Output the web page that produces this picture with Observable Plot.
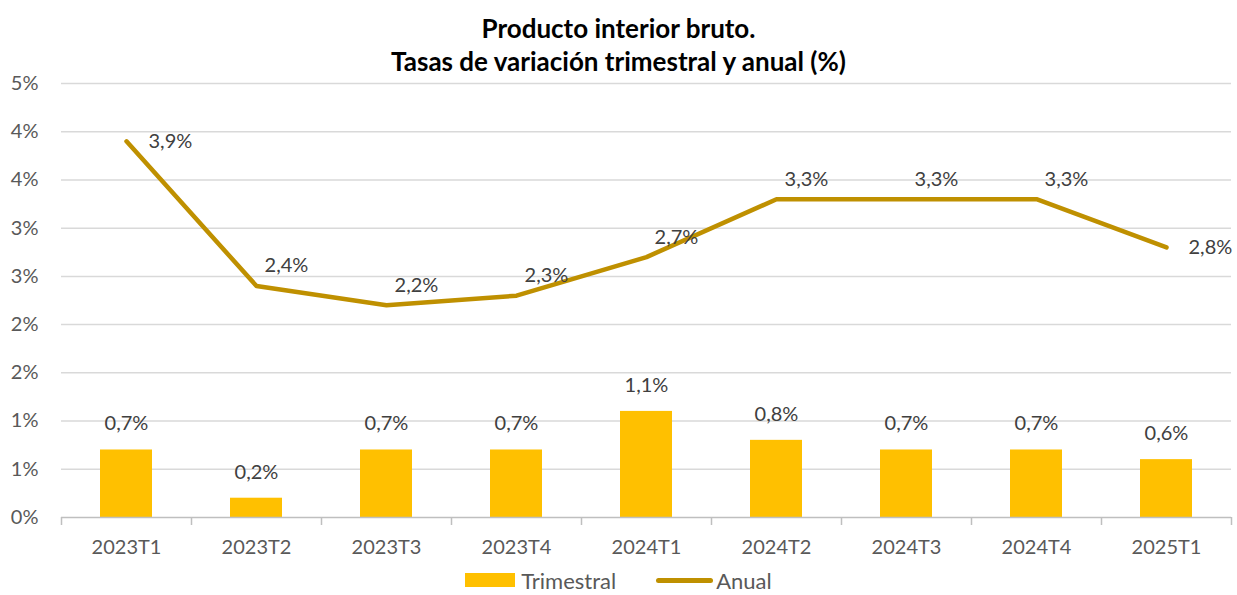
<!DOCTYPE html>
<html>
<head>
<meta charset="utf-8">
<script src="https://cdn.jsdelivr.net/npm/d3@7"></script>
<script src="https://cdn.jsdelivr.net/npm/@observablehq/plot@0.6"></script>
<style>
  html, body { margin: 0; padding: 0; background: #fff; }
  body { width: 1237px; height: 595px; overflow: hidden; font-family: Lato, "Open Sans", sans-serif; }
  #title { height: 70px; text-align: center; font-weight: bold; font-size: 26px; line-height: 33px; color: #000; padding-top: 12px; box-sizing: border-box; }
  #legend { display: flex; justify-content: center; align-items: center; height: 30px; font-size: 22px; color: #595959; padding-left: 0px; }
  .sw-bar { width: 50px; height: 14px; background: #FFC000; margin-right: 6px; }
  .sw-line { width: 57px; height: 5px; border-radius: 3px; background: #BF9000; margin-left: 40px; margin-right: 3px; }
</style>
</head>
<body>
<div id="title">Producto interior bruto.<br>Tasas de variación trimestral y anual (%)</div>
<div id="chart"></div>
<div id="legend"><div class="sw-bar"></div><span>Trimestral</span><div class="sw-line"></div><span>Anual</span></div>
<script>
const categories = ["2023T1","2023T2","2023T3","2023T4","2024T1","2024T2","2024T3","2024T4","2025T1"];
const trimestral = [0.7, 0.2, 0.7, 0.7, 1.1, 0.8, 0.7, 0.7, 0.6];
const anual = [3.9, 2.4, 2.2, 2.3, 2.7, 3.3, 3.3, 3.3, 2.8];
const yTicks = [0, 0.5, 1, 1.5, 2, 2.5, 3, 3.5, 4, 4.5];
const yTickLabels = ["0%","1%","1%","2%","2%","3%","3%","4%","4%","5%"];

const rows = categories.map((c, i) => ({cat: c, t: trimestral[i], a: anual[i], i}));
const fmt = v => v.toFixed(1).replace(".", ",") + "%";
const ends = rows.filter(d => d.i === 0 || d.i === rows.length - 1);
const mids = rows.filter(d => d.i !== 0 && d.i !== rows.length - 1);

const chart = Plot.plot({
  width: 1237,
  height: 495,
  marginTop: 13,
  marginBottom: 48,
  marginLeft: 61,
  marginRight: 6,
  style: {fontFamily: "Lato, 'Open Sans', sans-serif", fontSize: "20px", color: "#595959", background: "#fff"},
  x: {domain: categories, paddingInner: 0.6, paddingOuter: 0.3, label: null},
  y: {domain: [0, 4.5], label: null},
  marks: [
    Plot.ruleY(yTicks.filter(v => v > 0), {stroke: "#D9D9D9", strokeWidth: 1.5}),
    Plot.axisY(yTicks, {tickSize: 0, tickPadding: 23, label: null, tickFormat: (d) => yTickLabels[yTicks.indexOf(d)], fill: "#595959", fontSize: 20}),
    Plot.barY(rows, {x: "cat", y: "t", fill: "#FFC000"}),
    Plot.ruleY([0], {stroke: "#BFBFBF", strokeWidth: 1.5}),
    Plot.ruleX(rows, {x: "cat", y1: 0, y2: 0, dx: -65, insetBottom: -8, stroke: "#BFBFBF", strokeWidth: 1.5}),
    Plot.ruleX(rows.slice(-1), {x: "cat", y1: 0, y2: 0, dx: 65, insetBottom: -8, stroke: "#BFBFBF", strokeWidth: 1.5}),
    Plot.axisX({tickSize: 0, tickPadding: 22, label: null, fill: "#595959", fontSize: 20}),
    Plot.line(rows, {x: "cat", y: "a", stroke: "#BF9000", strokeWidth: 4.5, strokeLinejoin: "round", strokeLinecap: "round"}),
    Plot.text(rows, {x: "cat", y: "t", text: d => fmt(d.t), dy: -26, fill: "#404040", fontSize: 20}),
    Plot.text(ends, {x: "cat", y: "a", text: d => fmt(d.a), dx: 22, textAnchor: "start", fill: "#404040", fontSize: 20}),
    Plot.text(mids, {x: "cat", y: "a", text: d => fmt(d.a), dx: 30, dy: -20, fill: "#404040", fontSize: 20})
  ]
});
document.getElementById("chart").appendChild(chart);
</script>
</body>
</html>
